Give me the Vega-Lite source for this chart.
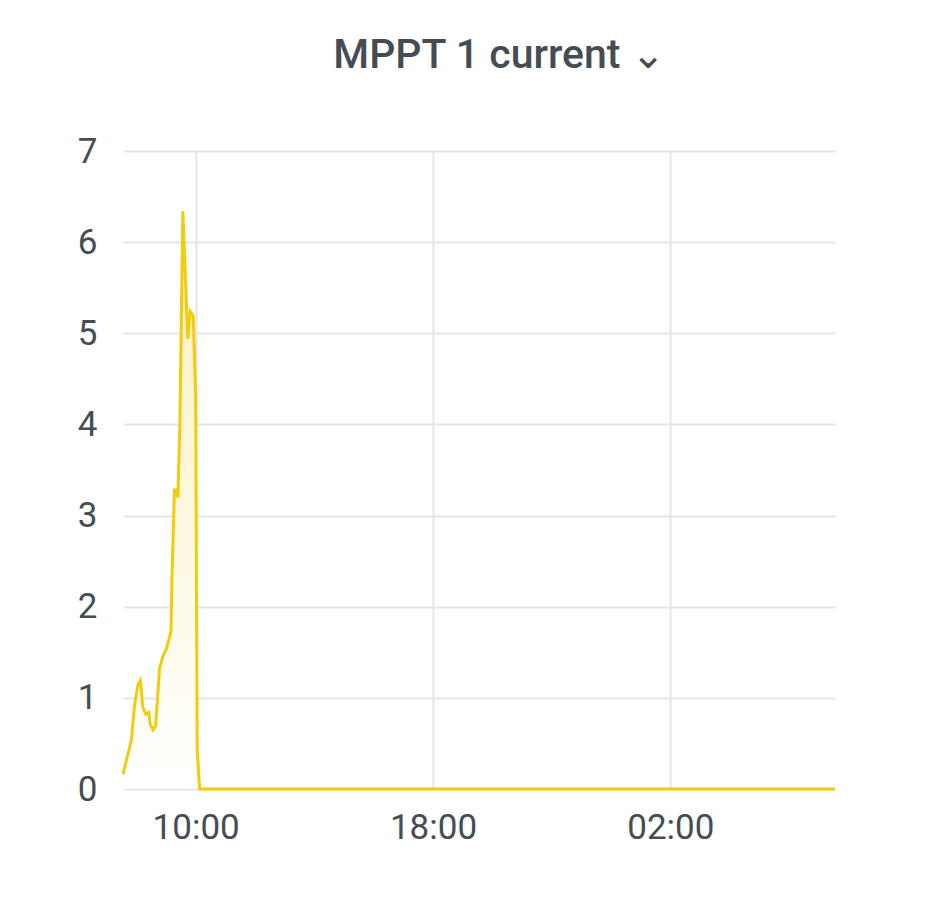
{
  "$schema": "https://vega.github.io/schema/vega-lite/v6.json",
  "width": 712,
  "height": 638,
  "autosize": {"type": "none"},
  "padding": {"left": 123, "top": 151, "right": 114, "bottom": 131},
  "background": "#ffffff",
  "config": {"view": {"stroke": null}, "font": "Roboto"},
  "title": {
    "text": "MPPT 1 current ⌄",
    "fontSize": 41,
    "fontWeight": 500,
    "color": "#464c54",
    "anchor": "middle",
    "frame": "group",
    "baseline": "alphabetic",
    "dx": 20,
    "offset": 25
  },
  "data": {
    "values": [
      {"time": "2024-01-01T07:33", "current": 0.16},
      {"time": "2024-01-01T07:50", "current": 0.54},
      {"time": "2024-01-01T07:56", "current": 0.9},
      {"time": "2024-01-01T08:03", "current": 1.14},
      {"time": "2024-01-01T08:08", "current": 1.19},
      {"time": "2024-01-01T08:13", "current": 0.9},
      {"time": "2024-01-01T08:19", "current": 0.82},
      {"time": "2024-01-01T08:25", "current": 0.84},
      {"time": "2024-01-01T08:28", "current": 0.71},
      {"time": "2024-01-01T08:34", "current": 0.65},
      {"time": "2024-01-01T08:39", "current": 0.69},
      {"time": "2024-01-01T08:47", "current": 1.33},
      {"time": "2024-01-01T08:54", "current": 1.46},
      {"time": "2024-01-01T09:01", "current": 1.54},
      {"time": "2024-01-01T09:10", "current": 1.73},
      {"time": "2024-01-01T09:12", "current": 2.31},
      {"time": "2024-01-01T09:17", "current": 3.28},
      {"time": "2024-01-01T09:20", "current": 3.28},
      {"time": "2024-01-01T09:24", "current": 3.2},
      {"time": "2024-01-01T09:28", "current": 4.0},
      {"time": "2024-01-01T09:34", "current": 6.34},
      {"time": "2024-01-01T09:44", "current": 4.94},
      {"time": "2024-01-01T09:49", "current": 5.24},
      {"time": "2024-01-01T09:55", "current": 5.19},
      {"time": "2024-01-01T10:00", "current": 4.3},
      {"time": "2024-01-01T10:03", "current": 0.44},
      {"time": "2024-01-01T10:08", "current": 0},
      {"time": "2024-01-01T14:00", "current": 0},
      {"time": "2024-01-01T20:00", "current": 0},
      {"time": "2024-01-02T02:00", "current": 0},
      {"time": "2024-01-02T07:33", "current": 0}
    ]
  },
  "encoding": {
    "x": {
      "field": "time",
      "type": "temporal",
      "title": null,
      "scale": {
        "domain": [
          {"year": 2024, "month": 1, "date": 1, "hours": 7, "minutes": 33},
          {"year": 2024, "month": 1, "date": 2, "hours": 7, "minutes": 33}
        ]
      },
      "axis": {
        "values": [
          {"year": 2024, "month": 1, "date": 1, "hours": 10},
          {"year": 2024, "month": 1, "date": 1, "hours": 18},
          {"year": 2024, "month": 1, "date": 2, "hours": 2}
        ],
        "format": "%H:%M",
        "labelFontSize": 35,
        "labelColor": "#464c54",
        "labelPadding": 21,
        "ticks": false,
        "domain": false,
        "gridColor": "#e5e5e5",
        "gridWidth": 2
      }
    },
    "y": {
      "field": "current",
      "type": "quantitative",
      "title": null,
      "scale": {"domain": [0, 7], "nice": false},
      "axis": {
        "values": [0, 1, 2, 3, 4, 5, 6, 7],
        "labelFontSize": 35,
        "labelColor": "#464c54",
        "labelPadding": 26,
        "ticks": false,
        "domain": false,
        "gridColor": "#e5e5e5",
        "gridWidth": 2
      }
    }
  },
  "layer": [
    {
      "mark": {
        "type": "area",
        "color": {
          "gradient": "linear",
          "x1": 1, "y1": 1, "x2": 1, "y2": 0,
          "stops": [
            {"offset": 0, "color": "#ffffff"},
            {"offset": 1, "color": "#fcf0bd"}
          ]
        }
      }
    },
    {
      "mark": {"type": "line", "color": "#f2cc0c", "strokeWidth": 3}
    }
  ]
}
